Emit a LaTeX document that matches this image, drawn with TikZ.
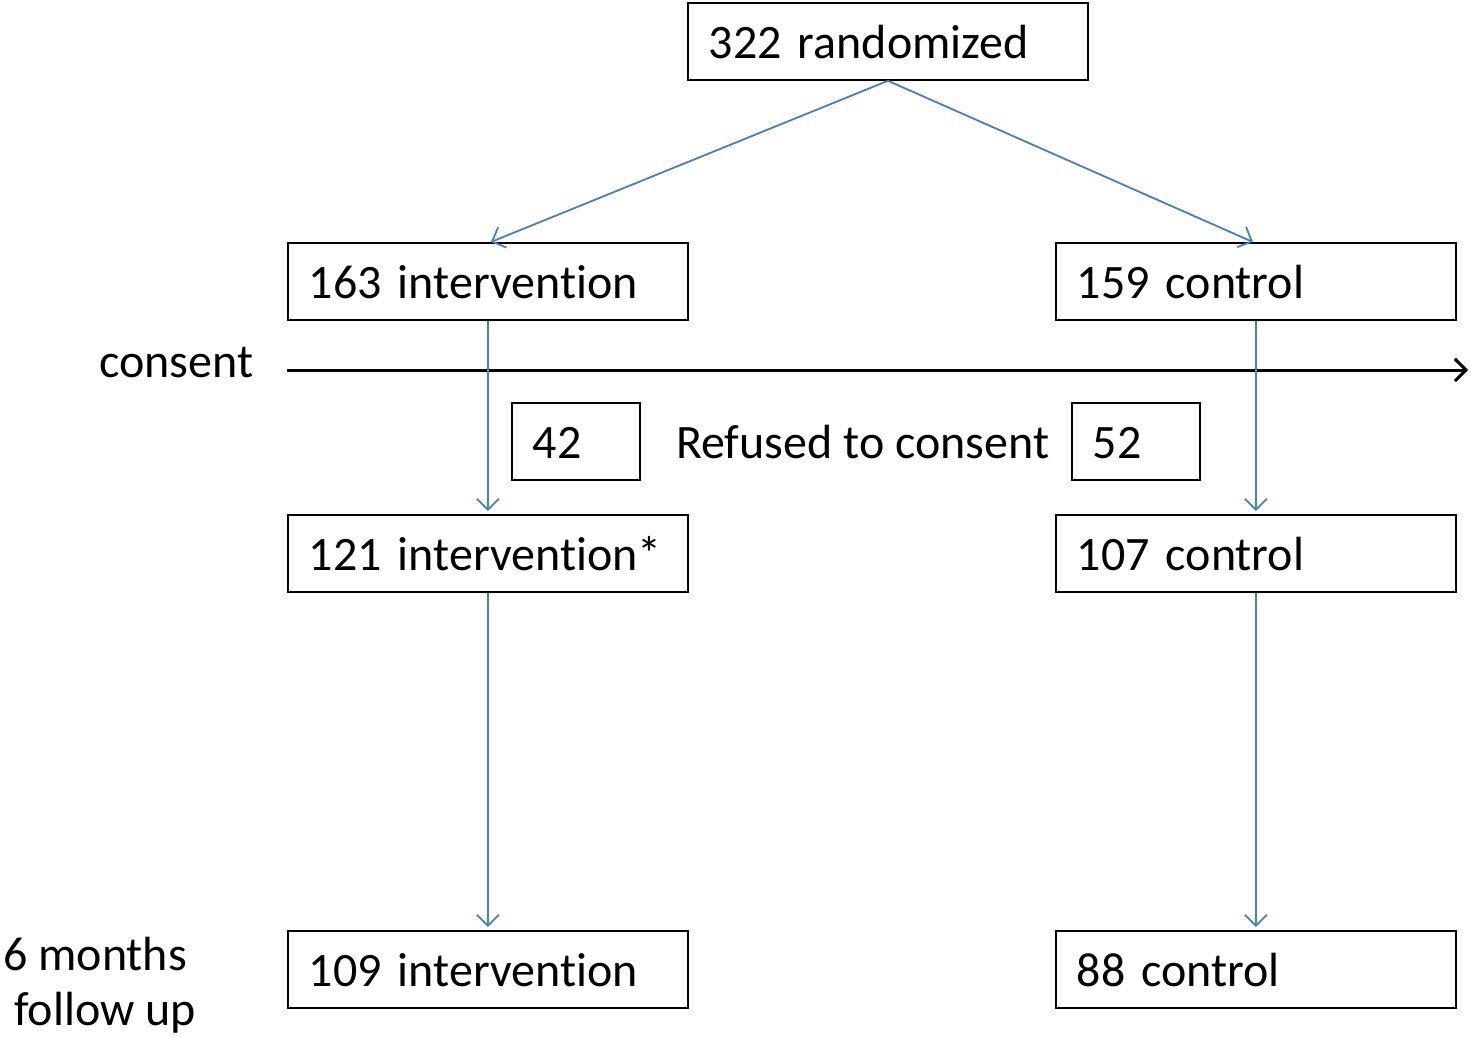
\documentclass[tikz,border=0pt]{standalone}
\usepackage{fontspec}
\setmainfont[Ligatures=NoCommon]{Carlito}
\usetikzlibrary{arrows.meta}
\definecolor{flowblue}{RGB}{74,126,187}
\begin{document}
\begin{tikzpicture}[x=1pt,y=-1pt,
  box/.style={draw=black,line width=1.8pt,rectangle,anchor=north west,
    minimum width=400pt,minimum height=77pt,text width=358pt,align=left,
    inner xsep=21pt,inner ysep=0pt,text height=40pt,text depth=5pt,
    font=\fontsize{48}{54}\selectfont},
  smallbox/.style={box,minimum width=128pt,text width=86pt},
  lbl/.style={font=\fontsize{48}{54}\selectfont,inner sep=0pt,anchor=base west},
  flow/.style={draw=flowblue,line width=1.8pt,-{Straight Barb[length=11pt,width=22pt,line width=1.8pt]}},
  timeline/.style={draw=black,line width=3pt,-{Straight Barb[length=11pt,width=22pt,line width=3pt]}}]
\useasboundingbox (0,0) rectangle (1471,1036);

\node[box] (rand) at (687,2) {322 randomized};
\node[box] (int1) at (287,242) {163 intervention};
\node[box] (con1) at (1055,242) {159 control};
\node[box] (int2) at (287,514) {121 intervention*};
\node[box] (con2) at (1055,514) {107 control};
\node[box] (int3) at (287,930) {109 intervention};
\node[box] (con3) at (1055,930) {88 control};
\node[smallbox] (r42) at (511,402) {42};
\node[smallbox] (r52) at (1071,402) {52};

\node[lbl] (refused) at (676,458) {Refused to consent};
\node[lbl] (consent) at (99,377) {consent};
\node[lbl] (months) at (3,970) {6 months};
\node[lbl] (follow) at (14,1025) {follow up};

\coordinate (cstart) at (287,370);
\coordinate (cend) at (1468,370);
\draw[timeline] (cstart) -- (cend);

\draw[flow] (rand.south) -- ([xshift=3pt]int1.north);
\draw[flow] (rand.south) -- ([xshift=-3pt]con1.north);
\draw[flow,shorten >=3pt] (int1.south) -- (int2.north);
\draw[flow,shorten >=3pt] (con1.south) -- (con2.north);
\draw[flow,shorten >=3pt] (int2.south) -- (int3.north);
\draw[flow,shorten >=3pt] (con2.south) -- (con3.north);
\end{tikzpicture}
\end{document}
